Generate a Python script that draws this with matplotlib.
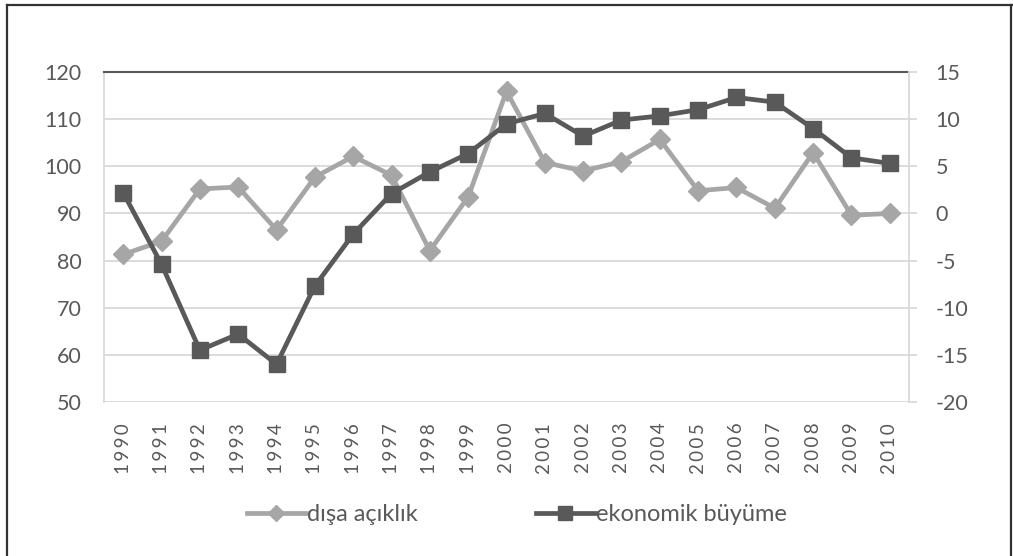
import matplotlib.pyplot as plt
from matplotlib.lines import Line2D

years = [str(y) for y in range(1990, 2011)]

# dışa açıklık (left axis)
openness = [81.3, 84.1, 95.2, 95.6, 86.5, 97.7, 102.1, 98.1, 82.1, 93.5, 115.9,
            100.8, 99.0, 101.0, 105.7, 94.8, 95.5, 91.1, 102.9, 89.6, 90.0]

# ekonomik büyüme (right axis)
growth = [2.2, -5.4, -14.5, -12.8, -16.0, -7.7, -2.2, 2.1, 4.4, 6.35, 9.5,
          10.6, 8.2, 9.9, 10.35, 11.0, 12.3, 11.8, 9.0, 5.9, 5.3]

left_ticks = [50, 60, 70, 80, 90, 100, 110, 120]
right_ticks = [-20, -15, -10, -5, 0, 5, 10, 15]

LIGHT = '#A6A6A6'
DARK = '#595959'
GRID = '#D9D9D9'
TEXT = '#595959'

plt.rcParams['font.family'] = ['Lato', 'DejaVu Sans']
plt.rcParams['axes.unicode_minus'] = False

fig = plt.figure(figsize=(10.13, 5.56), dpi=100)
ax = fig.add_axes([0.1027, 0.277, 0.7946, 0.5935])
ax2 = ax.twinx()

x = list(range(len(years)))

ax.plot(x, openness, color=LIGHT, lw=3.4, marker='D', markersize=10,
        label='dışa açıklık', zorder=3)
ax2.plot(x, growth, color=DARK, lw=3.4, marker='s', markersize=12,
         label='ekonomik büyüme', zorder=3)

ax.set_xlim(-0.5, len(years) - 0.5)
ax.set_ylim(50, 120)
ax2.set_ylim(-20, 15)
ax.set_yticks(left_ticks)
ax2.set_yticks(right_ticks)
ax.set_xticks(x)
# the original labels are letter-spaced, so thin spaces go between the digits
spaced = ['\u2009'.join(y) for y in years]
ax.set_xticklabels(spaced, rotation=90, fontsize=13.5, color=TEXT)

ax.yaxis.grid(True, color=GRID, lw=1.3)
ax.set_axisbelow(True)

for s in ['left', 'right', 'bottom', 'top']:
    ax.spines[s].set_visible(False)
    ax2.spines[s].set_visible(False)
ax2.spines['right'].set_visible(True)
ax2.spines['right'].set_color(GRID)
ax2.spines['right'].set_linewidth(1.3)
ax.spines['left'].set_visible(True)
ax.spines['left'].set_color(GRID)
ax.spines['left'].set_linewidth(1.3)
ax.spines['top'].set_visible(True)
ax.spines['top'].set_color(DARK)
ax.spines['top'].set_linewidth(1.5)

ax.tick_params(axis='y', length=0, pad=16, labelsize=15.5, labelcolor=TEXT)
ax.tick_params(axis='x', length=0, pad=15)
ax2.tick_params(axis='y', length=6, width=1.3, color=GRID, pad=13,
                labelsize=15.5, labelcolor=TEXT)

h1, l1 = ax.get_legend_handles_labels()
h2, l2 = ax2.get_legend_handles_labels()
leg = fig.legend(h1 + h2, l1 + l2, loc='center', bbox_to_anchor=(0.51, 0.074),
                 ncol=2, frameon=False, fontsize=17, handlelength=2.5,
                 handletextpad=0.05, columnspacing=5.0, markerscale=0.8)
for t in leg.get_texts():
    t.set_color(TEXT)

# outer frame
fig.add_artist(Line2D([7 / 1013, 7 / 1013], [0, 1 - 5 / 556],
                      transform=fig.transFigure, color='#333333', lw=1.6))
fig.add_artist(Line2D([7 / 1013, 1012 / 1013], [1 - 5 / 556, 1 - 5 / 556],
                      transform=fig.transFigure, color='#333333', lw=1.6))
fig.add_artist(Line2D([1011 / 1013, 1011 / 1013], [0, 1 - 5 / 556],
                      transform=fig.transFigure, color='#333333', lw=1.6))

fig.savefig('out.png', dpi=100)
